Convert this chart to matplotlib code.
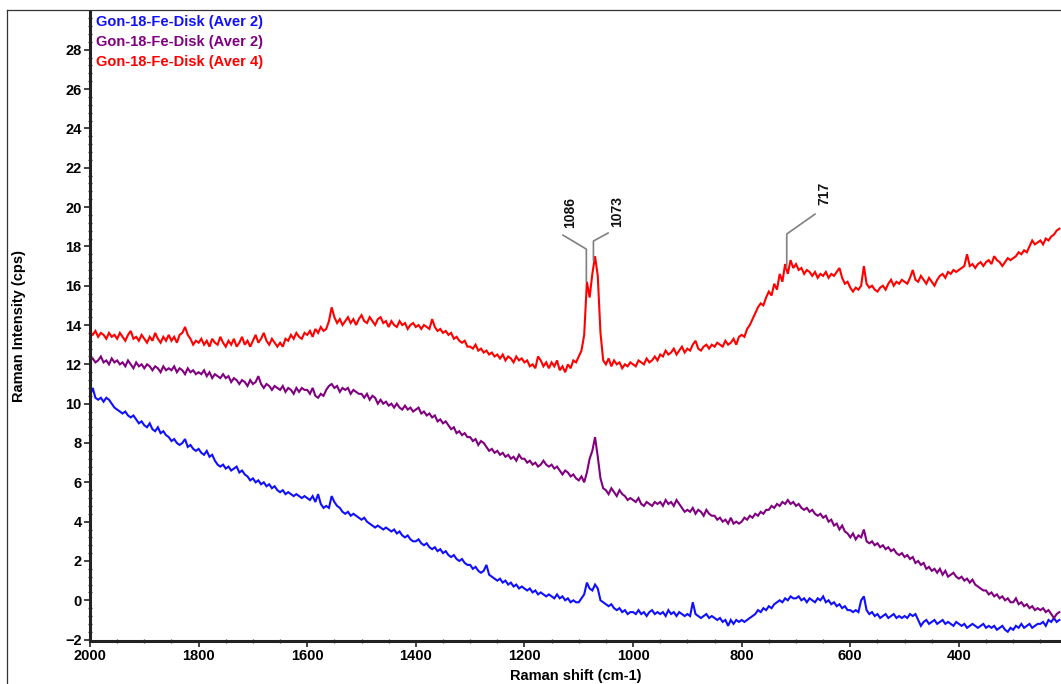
import numpy as np
import matplotlib
matplotlib.use("Agg")
import matplotlib.pyplot as plt
from matplotlib.lines import Line2D
from matplotlib.ticker import MultipleLocator

plt.rcParams["font.family"] = ["Liberation Sans", "DejaVu Sans"]

# Raman shift grid (cm-1), 5 cm-1 steps, high to low
SHIFT = np.arange(2000, 214, -5)

# Gon-18-Fe-Disk, Aver 4 (top trace)
RED = [
    13.6, 13.5, 13.7, 13.4, 13.6, 13.5, 13.3, 13.6, 13.4, 13.5,
    13.3, 13.6, 13.4, 13.2, 13.5, 13.7, 13.3, 13.4, 13.2, 13.5,
    13.3, 13.1, 13.4, 13.2, 13.6, 13.3, 13.1, 13.4, 13.2, 13.5,
    13.2, 13.4, 13.1, 13.5, 13.6, 13.9, 13.5, 13.3, 13.0, 13.2,
    13.1, 13.3, 13.0, 13.2, 12.9, 13.3, 13.1, 13.0, 13.4, 13.1,
    12.9, 13.2, 13.0, 13.3, 12.9, 13.1, 13.4, 13.0, 13.2, 12.9,
    13.2, 13.5, 13.1, 13.3, 13.6, 13.2, 13.0, 13.3, 13.1, 12.9,
    13.1, 12.9, 13.3, 13.2, 13.5, 13.3, 13.6, 13.4, 13.3, 13.6,
    13.5, 13.7, 13.4, 13.8, 13.6, 13.9, 13.7, 13.8, 14.2, 14.9,
    14.4, 14.1, 14.3, 14.0, 14.2, 14.4, 14.1, 14.3, 14.0, 14.3,
    14.5, 14.2, 14.1, 14.4, 14.2, 14.0, 14.3, 14.4, 14.1, 14.2,
    13.9, 14.2, 14.0, 13.9, 14.2, 14.0, 14.1, 13.8, 14.0, 14.1,
    13.9, 14.0, 13.8, 14.0, 13.9, 13.8, 14.3, 13.9, 13.7, 13.8,
    13.6, 13.7, 13.5, 13.6, 13.3, 13.4, 13.2, 13.1, 13.2, 12.9,
    12.9, 12.8, 13.0, 12.7, 12.8, 12.6, 12.7, 12.5, 12.6, 12.4,
    12.5, 12.3, 12.5, 12.2, 12.4, 12.3, 12.1, 12.4, 12.2, 12.3,
    12.1, 12.2, 11.9, 12.0, 11.8, 12.4, 12.2, 11.9, 12.1, 11.8,
    12.1, 11.9, 12.2, 11.7, 11.9, 11.6, 12.0, 11.8, 12.2, 12.1,
    12.4, 12.7, 13.5, 16.2, 15.4, 16.6, 17.5, 16.5, 13.6, 12.2,
    12.0, 12.3, 11.9, 12.2, 12.0, 12.1, 11.8, 12.0, 11.9, 12.1,
    12.0, 11.9, 12.2, 12.1, 12.0, 12.3, 12.1, 12.2, 12.4, 12.2,
    12.5, 12.4, 12.7, 12.5, 12.6, 12.8, 12.5, 12.7, 12.9, 12.6,
    12.8, 12.7, 13.0, 13.2, 12.8, 12.7, 12.9, 13.0, 12.8, 13.0,
    12.9, 13.1, 13.0, 12.9, 13.2, 13.0, 13.1, 13.3, 13.0, 13.4,
    13.5, 13.4, 13.8, 14.0, 14.3, 14.6, 14.9, 15.1, 15.0, 15.4,
    15.7, 15.5, 16.1, 15.8, 16.6, 16.2, 17.1, 16.6, 17.3, 16.9,
    17.1, 16.8, 16.9, 16.6, 16.8, 16.7, 16.5, 16.7, 16.4, 16.6,
    16.5, 16.7, 16.4, 16.6, 16.5, 16.7, 16.9, 16.4, 16.1, 16.2,
    15.9, 15.7, 15.9, 15.8, 16.0, 17.0, 16.1, 15.9, 16.0, 15.8,
    15.7, 15.9, 16.0, 15.8, 16.1, 16.3, 16.0, 16.2, 16.1, 16.3,
    16.2, 16.1, 16.4, 16.8, 16.3, 16.2, 16.5, 16.3, 16.1, 16.4,
    16.2, 16.0, 16.3, 16.5, 16.6, 16.4, 16.7, 16.6, 16.8, 16.7,
    16.8, 16.9, 17.0, 17.6, 17.0, 17.1, 16.9, 17.1, 17.2, 17.0,
    17.2, 17.3, 17.1, 17.5, 17.3, 17.2, 17.0, 17.2, 17.4, 17.3,
    17.4, 17.5, 17.7, 17.6, 17.8, 17.7, 18.0, 18.3, 18.1, 18.2,
    18.3, 18.1, 18.4, 18.3, 18.5, 18.6, 18.8, 18.9,
]

# Gon-18-Fe-Disk, Aver 2 (middle trace)
PURPLE = [
    12.2, 12.3, 12.1, 12.2, 12.4, 12.1, 12.2, 12.0, 12.3, 12.1,
    12.2, 12.0, 12.1, 11.9, 12.2, 12.0, 11.8, 12.1, 11.9, 12.0,
    11.8, 12.0, 11.9, 11.7, 11.9, 11.8, 11.6, 11.9, 11.7, 11.8,
    11.7, 11.9, 11.6, 11.8, 11.7, 11.5, 11.8, 11.6, 11.7, 11.5,
    11.6, 11.5, 11.7, 11.4, 11.6, 11.3, 11.5, 11.4, 11.3, 11.5,
    11.3, 11.4, 11.1, 11.3, 11.2, 11.0, 11.2, 11.1, 10.9, 11.2,
    11.0, 11.1, 11.4, 11.0, 10.8, 11.0, 10.9, 10.7, 10.9, 10.8,
    10.7, 10.9, 10.6, 10.8, 10.7, 10.5, 10.8, 10.6, 10.8, 10.7,
    10.7, 10.5, 10.8, 10.4, 10.3, 10.5, 10.4, 10.7, 10.9, 11.0,
    10.8, 10.9, 10.6, 10.8, 10.7, 10.8, 10.5, 10.7, 10.6, 10.5,
    10.5, 10.3, 10.5, 10.2, 10.4, 10.3, 10.0, 10.2, 10.0, 10.1,
    9.9, 10.0, 9.8, 10.0, 9.8, 9.7, 9.9, 9.7, 9.8, 9.6,
    9.7, 9.8, 9.5, 9.6, 9.4, 9.5, 9.3, 9.4, 9.1, 9.2,
    9.0, 9.1, 8.9, 8.7, 8.8, 8.5, 8.6, 8.4, 8.5, 8.3,
    8.3, 8.1, 8.2, 7.9, 8.1, 8.0, 7.8, 7.6, 7.7, 7.5,
    7.6, 7.4, 7.5, 7.3, 7.4, 7.2, 7.3, 7.1, 7.4, 7.2,
    7.2, 7.0, 7.1, 6.9, 7.0, 6.8, 6.9, 7.1, 6.9, 6.8,
    6.9, 6.7, 6.8, 6.6, 6.4, 6.6, 6.5, 6.3, 6.4, 6.2,
    6.1, 6.3, 6.0, 6.5, 7.2, 7.6, 8.3, 7.3, 6.2, 5.7,
    5.6, 5.4, 5.7, 5.5, 5.3, 5.6, 5.4, 5.3, 5.1, 5.2,
    5.1, 5.0, 5.2, 4.9, 4.8, 5.0, 4.9, 4.8, 5.0, 4.9,
    5.0, 4.8, 5.1, 4.9, 5.0, 4.8, 5.1, 4.9, 4.7, 4.5,
    4.6, 4.5, 4.7, 4.4, 4.6, 4.5, 4.3, 4.6, 4.4, 4.3,
    4.3, 4.1, 4.2, 4.0, 4.1, 3.9, 4.2, 3.9, 4.0, 3.9,
    4.0, 4.2, 4.1, 4.3, 4.2, 4.4, 4.3, 4.5, 4.4, 4.6,
    4.6, 4.8, 4.7, 4.9, 4.8, 5.0, 4.9, 5.1, 4.9, 5.0,
    4.8, 4.9, 4.7, 4.6, 4.7, 4.5, 4.6, 4.4, 4.3, 4.4,
    4.2, 4.3, 4.0, 4.1, 3.8, 3.9, 3.6, 3.8, 3.5, 3.4,
    3.2, 3.4, 3.1, 3.3, 3.2, 3.6, 3.0, 2.9, 3.0, 2.8,
    2.9, 2.7, 2.8, 2.6, 2.7, 2.5, 2.6, 2.4, 2.3, 2.4,
    2.2, 2.3, 2.1, 2.2, 1.9, 2.0, 1.8, 1.9, 1.6, 1.7,
    1.5, 1.6, 1.4, 1.6, 1.3, 1.5, 1.2, 1.3, 1.4, 1.2,
    1.1, 1.2, 1.0, 1.1, 0.9, 1.05, 0.8, 0.7, 0.6, 0.5,
    0.5, 0.3, 0.4, 0.2, 0.3, 0.1, 0.2, 0.0, 0.1, -0.1,
    -0.1, 0.1, -0.2, -0.1, -0.3, -0.2, -0.4, -0.3, -0.5, -0.4,
    -0.5, -0.4, -0.6, -0.5, -0.7, -0.9, -0.7, -0.6,
]

# Gon-18-Fe-Disk, Aver 2 (bottom trace)
BLUE = [
    10.4, 10.8, 10.3, 10.2, 10.3, 10.1, 10.3, 10.2, 10.0, 9.8,
    9.7, 9.6, 9.5, 9.6, 9.4, 9.3, 9.4, 9.2, 9.0, 9.1,
    8.9, 8.8, 9.0, 8.7, 8.6, 8.8, 8.5, 8.6, 8.4, 8.3,
    8.1, 8.2, 8.0, 7.9, 8.0, 8.2, 7.8, 7.9, 7.7, 7.6,
    7.7, 7.5, 7.4, 7.6, 7.3, 7.4, 7.1, 6.9, 6.8, 6.9,
    6.7, 6.8, 6.6, 6.7, 6.8, 6.5, 6.6, 6.4, 6.3, 6.1,
    6.2, 6.0, 6.1, 5.9, 6.0, 5.8, 5.9, 5.7, 5.8, 5.6,
    5.5, 5.6, 5.4, 5.5, 5.4, 5.3, 5.4, 5.3, 5.2, 5.3,
    5.2, 5.1, 5.3, 5.0, 5.4, 4.9, 4.7, 4.8, 4.7, 5.3,
    5.0, 4.8, 4.7, 4.5, 4.4, 4.5, 4.3, 4.4, 4.3, 4.2,
    4.1, 4.2, 4.0, 3.9, 3.8, 3.7, 3.8, 3.7, 3.6, 3.7,
    3.6, 3.5, 3.6, 3.4, 3.5, 3.3, 3.2, 3.3, 3.1, 3.0,
    3.0, 3.1, 2.9, 2.8, 2.9, 2.7, 2.6, 2.7, 2.5, 2.6,
    2.4, 2.5, 2.3, 2.2, 2.3, 2.1, 2.0, 2.1, 1.9, 1.8,
    1.8, 1.6, 1.7, 1.5, 1.4, 1.5, 1.8, 1.3, 1.2, 1.1,
    1.0, 1.1, 0.9, 1.0, 0.8, 0.9, 0.7, 0.8, 0.6, 0.7,
    0.6, 0.5, 0.6, 0.4, 0.5, 0.3, 0.4, 0.3, 0.2, 0.3,
    0.2, 0.1, 0.3, 0.1, 0.2, 0.0, 0.1, -0.1, 0.0, -0.1,
    -0.1, 0.1, 0.3, 0.9, 0.6, 0.5, 0.8, 0.6, 0.0, -0.1,
    -0.2, -0.3, -0.2, -0.4, -0.5, -0.4, -0.6, -0.5, -0.7, -0.6,
    -0.6, -0.7, -0.5, -0.7, -0.6, -0.8, -0.6, -0.5, -0.7, -0.6,
    -0.7, -0.6, -0.8, -0.5, -0.7, -0.6, -0.8, -0.6, -0.7, -0.8,
    -0.7, -0.8, -0.1, -0.7, -0.8, -0.9, -0.8, -0.7, -0.9, -0.8,
    -0.9, -1.0, -0.9, -1.1, -1.0, -1.3, -1.0, -1.2, -1.0, -1.1,
    -1.0, -1.1, -1.0, -0.9, -0.8, -0.7, -0.5, -0.6, -0.4, -0.5,
    -0.3, -0.4, -0.2, -0.1, 0.0, -0.1, 0.1, 0.0, 0.2, 0.1,
    0.1, 0.2, 0.0, 0.1, -0.1, 0.1, 0.0, -0.1, 0.1, 0.0,
    0.2, -0.1, 0.0, -0.2, -0.1, -0.3, -0.2, -0.4, -0.3, -0.5,
    -0.5, -0.6, -0.5, -0.6, 0.0, 0.2, -0.5, -0.7, -0.6, -0.8,
    -0.7, -0.9, -0.8, -0.7, -0.9, -0.8, -0.7, -0.9, -0.8, -0.9,
    -0.8, -0.9, -0.7, -0.8, -0.7, -1.0, -1.3, -1.1, -1.0, -1.2,
    -1.1, -1.0, -1.2, -1.1, -1.0, -1.2, -1.1, -1.2, -1.3, -1.1,
    -1.2, -1.3, -1.2, -1.4, -1.3, -1.2, -1.3, -1.4, -1.3, -1.2,
    -1.4, -1.3, -1.4, -1.3, -1.5, -1.4, -1.3, -1.5, -1.6, -1.4,
    -1.5, -1.3, -1.4, -1.2, -1.4, -1.3, -1.2, -1.4, -1.3, -1.2,
    -1.2, -1.1, -1.3, -1.0, -1.1, -0.9, -1.1, -1.0,
]

SERIES_LABELS = ["Gon-18-Fe-Disk (Aver 2)", "Gon-18-Fe-Disk (Aver 2)", "Gon-18-Fe-Disk (Aver 4)"]
SERIES_COLORS = ["#1010ff", "#800080", "#ff0000"]

# labelled peaks on the Aver 4 trace (cm-1)
PEAKS = [1086, 1073, 717]

fig = plt.figure(figsize=(10.61, 6.84), dpi=100)
ax = fig.add_axes([90 / 1061, 1 - 641 / 684, 1 - 90 / 1061, 629 / 684])

for y, c in zip([BLUE, PURPLE, RED], SERIES_COLORS):
    ax.plot(SHIFT, y, color=c, lw=1.5, solid_joinstyle="miter")

ax.set_xlim(2000, 212)
ax.set_ylim(-2.07, 29.92)
ax.xaxis.set_major_locator(MultipleLocator(200))
ax.xaxis.set_minor_locator(MultipleLocator(50))
ax.yaxis.set_major_locator(MultipleLocator(2))
ax.yaxis.set_minor_locator(MultipleLocator(0.4))

for side in ["top", "right"]:
    ax.spines[side].set_visible(False)
for side in ["left", "bottom"]:
    ax.spines[side].set_linewidth(2.2)
    ax.spines[side].set_color("#222222")

ax.tick_params(which="major", direction="out", length=4, width=1.2,
               color="#222222", labelsize=10.5, pad=2)
ax.tick_params(which="minor", direction="inout", length=3, width=0.9, color="#444444")
for lab in ax.get_xticklabels() + ax.get_yticklabels():
    lab.set_fontweight("bold")

ax.set_xlabel("Raman shift (cm-1)", fontsize=10.5, fontweight="bold", labelpad=4)
ax.set_ylabel("Raman Intensity (cps)", fontsize=10.5, fontweight="bold", labelpad=28)

# legend entries as coloured text in the top-left corner
for i, (lbl, c) in enumerate(zip(SERIES_LABELS, SERIES_COLORS)):
    ax.text(0.006, 0.984 - i * 0.0318, lbl, transform=ax.transAxes, color=c,
            fontsize=10.5, fontweight="bold", ha="left", va="center")

# peak labels with bent leader lines
leaders = {
    1086: dict(top=17.86, end=(1129, 18.57), text=(1116, 18.95)),
    1073: dict(top=18.27, end=(1046, 18.68), text=(1029, 19.0)),
    717: dict(top=18.63, end=(665, 19.64), text=(648, 20.1)),
}
peak_y = {1086: 16.2, 1073: 17.3, 717: 16.9}
for p in PEAKS:
    d = leaders[p]
    ax.plot([p, p, d["end"][0]], [peak_y[p], d["top"], d["end"][1]],
            color="#808080", lw=1.2)
    ax.text(d["text"][0], d["text"][1], str(p), rotation=90, ha="center",
            va="bottom", fontsize=10, fontweight="bold", color="#111111")

# outer frame around the whole chart
fig.add_artist(Line2D([7 / 1061, 7 / 1061], [0, 1 - 10 / 684], color="#333333", lw=0.9))
fig.add_artist(Line2D([7 / 1061, 1], [1 - 10 / 684, 1 - 10 / 684], color="#333333", lw=0.9))

fig.savefig("out.png", dpi=100)
